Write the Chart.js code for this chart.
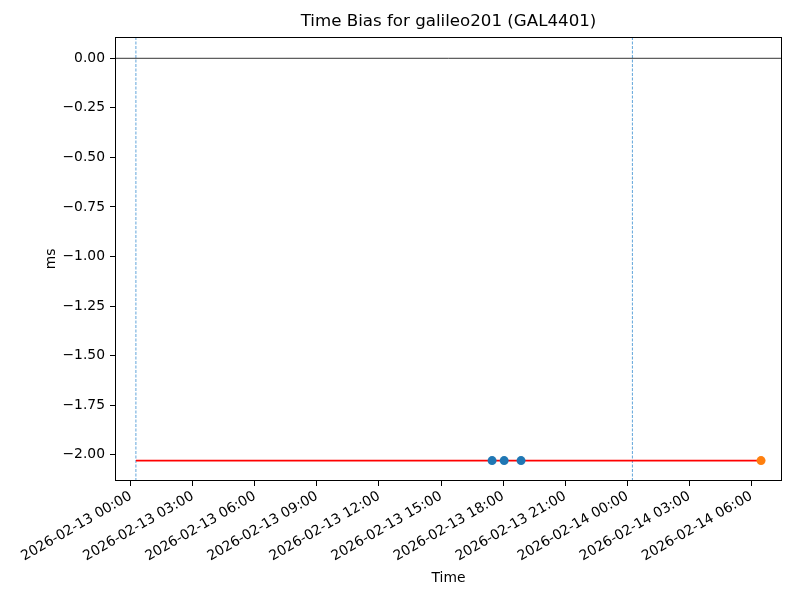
<!DOCTYPE html>
<html>
<head>
<meta charset="utf-8">
<script src="https://cdn.jsdelivr.net/npm/chart.js@4"></script>
<style>
  html, body { margin: 0; padding: 0; background: #fff; }
  canvas { display: block; }
</style>
</head>
<body>
<canvas id="biasChart" width="800" height="600"></canvas>
<script>
// --- Données ---
const tickTimes = [
  "2026-02-13 00:00", "2026-02-13 03:00", "2026-02-13 06:00", "2026-02-13 09:00",
  "2026-02-13 12:00", "2026-02-13 15:00", "2026-02-13 18:00", "2026-02-13 21:00",
  "2026-02-14 00:00", "2026-02-14 03:00", "2026-02-14 06:00",
];
const yTicks = [0, -0.25, -0.5, -0.75, -1.0, -1.25, -1.5, -1.75, -2.0];

const measTimes = ["2026-02-13 17:28", "2026-02-13 18:03", "2026-02-13 18:52"];
const measValues = [-2.03, -2.03, -2.03];

const predTimes = ["2026-02-14 06:28"];
const predValues = [-2.03];

const fitTimes = ["2026-02-13 00:15", "2026-02-14 06:28"];
const fitValues = [-2.03, -2.03];

const eventTimes = ["2026-02-13 00:15", "2026-02-14 00:15"];

// --- Axes ---
const BASE = Date.UTC(2026, 1, 13);
const X_MIN = -0.76, X_MAX = 31.48;
const Y_MIN = -2.133, Y_MAX = 0.1075;

function toHours(s) {
  return (Date.parse(s.replace(" ", "T") + ":00Z") - BASE) / 3600e3;
}
function fmtHours(h) {
  return new Date(BASE + h * 3600e3).toISOString().slice(0, 16).replace("T", " ");
}
const pts = (times, vals) => times.map((t, i) => ({ x: toHours(t), y: vals[i] }));

const FONT = "'DejaVu Sans', sans-serif";
const FS = 13.89;

const eventSets = eventTimes.map((t) => ({
  data: [{ x: toHours(t), y: Y_MIN }, { x: toHours(t), y: Y_MAX }],
  showLine: true, borderColor: "#3a8fd0", borderWidth: 0.8, borderDash: [3, 1.5],
  pointRadius: 0,
}));

// cadre complet + titre centré sur la zone de tracé (comme matplotlib)
const frame = {
  id: "frame",
  afterLayout(chart) {
    if (chart.titleBlock) {
      chart.titleBlock.left = chart.chartArea.left;
      chart.titleBlock.right = chart.chartArea.right;
    }
  },
  afterDraw(chart) {
    const { ctx, chartArea: a } = chart;
    ctx.save();
    ctx.strokeStyle = "#000";
    ctx.lineWidth = 1;
    ctx.strokeRect(Math.round(a.left) + 0.5, Math.round(a.top) + 0.5,
      Math.round(a.right - a.left) - 1, Math.round(a.bottom - a.top) - 1);
    ctx.restore();
  },
};

new Chart(document.getElementById("biasChart"), {
  type: "scatter",
  data: {
    datasets: [
      { data: pts(measTimes, measValues), backgroundColor: "#1f77b4", pointRadius: 4.5, pointBorderWidth: 0 },
      { data: pts(predTimes, predValues), backgroundColor: "#ff7f0e", pointRadius: 4.5, pointBorderWidth: 0 },
      { data: pts(fitTimes, fitValues), showLine: true, borderColor: "#ff0000", borderWidth: 1.6, pointRadius: 0 },
      { data: [{ x: X_MIN, y: 0 }, { x: X_MAX, y: 0 }], showLine: true, borderColor: "#000", borderWidth: 0.8, pointRadius: 0 },
      ...eventSets,
    ],
  },
  options: {
    responsive: false,
    animation: false,
    layout: { padding: { left: 0, right: 18, top: 0, bottom: 0 } },
    plugins: {
      legend: { display: false },
      tooltip: { enabled: false },
      title: {
        display: true,
        text: "Time Bias for galileo201 (GAL4401)",
        color: "#000",
        font: { family: FONT, size: 16.67, weight: "normal", lineHeight: 1.2 },
        padding: { top: 12, bottom: 5 },
      },
    },
    scales: {
      x: {
        type: "linear",
        min: X_MIN,
        max: X_MAX,
        afterBuildTicks: (s) => { s.ticks = tickTimes.map((t) => ({ value: toHours(t) })); },
        afterFit: (s) => { s.height = 119; },
        ticks: {
          autoSkip: false, maxRotation: 30, minRotation: 30, padding: 2,
          color: "#000", font: { family: FONT, size: FS },
          callback: (v) => fmtHours(v),
        },
        grid: { drawOnChartArea: false, drawTicks: true, tickLength: 5, color: "#000" },
        border: { display: false },
        title: {
          display: true, text: "Time", color: "#000",
          font: { family: FONT, size: FS }, padding: { top: 0, bottom: 13 },
        },
      },
      y: {
        min: Y_MIN,
        max: Y_MAX,
        afterBuildTicks: (s) => { s.ticks = yTicks.map((v) => ({ value: v })); },
        afterFit: (s) => { s.width = 115; },
        ticks: {
          padding: 5, color: "#000", font: { family: FONT, size: FS },
          callback: (v) => (v < 0 ? "\u2212" + Math.abs(v).toFixed(2) : v.toFixed(2)),
        },
        grid: { drawOnChartArea: false, drawTicks: true, tickLength: 5, color: "#000" },
        border: { display: false },
        title: {
          display: true, text: "ms", color: "#000",
          font: { family: FONT, size: FS }, padding: { top: 43, bottom: 0 },
        },
      },
    },
  },
  plugins: [frame],
});
</script>
</body>
</html>
